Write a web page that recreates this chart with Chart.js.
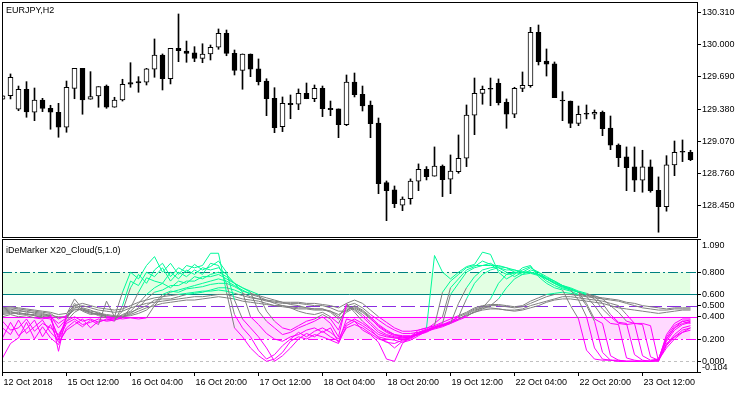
<!DOCTYPE html>
<html>
<head>
<meta charset="utf-8">
<script src="https://cdn.jsdelivr.net/npm/chart.js@4.4.0/dist/chart.umd.min.js"></script>
<style>
  body { margin: 0; background: #fff; }
  #wrap { position: relative; width: 750px; height: 394px; overflow: hidden; background: #fff; }
  #priceChart { position: absolute; left: 0; top: 0; }
  #demChart { position: absolute; left: 0; top: 229px; }
</style>
</head>
<body>
<div id="wrap">
  <canvas id="priceChart" width="750" height="239"></canvas>
  <canvas id="demChart" width="750" height="165"></canvas>
</div>
<script>
// EURJPY H2 candles (bar 0 = left edge)
const openP = [
  129.475, 129.509, 129.379, 129.571, 129.350, 129.468, 129.388, 129.350, 129.206, 129.580,
  129.772, 129.475, 129.506, 129.602, 129.398, 129.468, 129.634, 129.644, 129.638, 129.763,
  129.900, 129.672, 129.964, 129.938, 129.922, 129.868, 129.910, 129.974, 130.108, 129.916,
  129.753, 129.910, 129.766, 129.650, 129.484, 129.212, 129.436, 129.427, 129.532, 129.480,
  129.580, 129.388, 129.382, 129.231, 129.641, 129.523, 129.420, 129.247, 128.674, 128.604,
  128.457, 128.520, 128.688, 128.803, 128.736, 128.834, 128.707, 128.780, 128.908, 129.321,
  129.532, 129.571, 129.628, 129.446, 129.331, 129.580, 129.605, 130.118, 129.842, 129.814,
  129.458, 129.458, 129.244, 129.331, 129.331, 129.350, 129.199, 129.036, 128.921, 128.825,
  128.697, 128.825, 128.601, 128.444, 128.844, 128.966, 128.966
];
const highP = [
  129.511, 129.718, 129.602, 129.644, 129.583, 129.484, 129.417, 129.436, 129.650, 129.772,
  129.772, 129.740, 129.596, 129.612, 129.494, 129.667, 129.826, 129.692, 129.772, 130.054,
  129.910, 129.964, 130.294, 130.034, 129.980, 130.008, 129.996, 130.150, 130.140, 129.948,
  129.910, 129.910, 129.862, 129.672, 129.586, 129.497, 129.516, 129.574, 129.631, 129.612,
  129.602, 129.458, 129.382, 129.708, 129.727, 129.602, 129.458, 129.295, 128.690, 128.642,
  128.537, 128.710, 128.854, 128.828, 129.017, 128.844, 128.940, 129.132, 129.420, 129.679,
  129.602, 129.679, 129.670, 129.478, 129.590, 129.737, 130.166, 130.188, 129.958, 129.833,
  129.548, 129.458, 129.410, 129.420, 129.372, 129.362, 129.314, 129.046, 129.017, 129.017,
  128.985, 128.892, 128.729, 128.933, 129.074, 129.084, 128.985
];
const lowP = [
  129.473, 129.478, 129.365, 129.302, 129.269, 129.356, 129.187, 129.110, 129.158, 129.480,
  129.331, 129.475, 129.398, 129.388, 129.398, 129.458, 129.590, 129.542, 129.612, 129.686,
  129.564, 129.622, 129.836, 129.830, 129.836, 129.826, 129.852, 129.955, 129.893, 129.708,
  129.571, 129.692, 129.612, 129.317, 129.154, 129.164, 129.288, 129.375, 129.480, 129.452,
  129.308, 129.317, 129.106, 129.221, 129.497, 129.362, 129.106, 128.568, 128.309, 128.434,
  128.405, 128.467, 128.597, 128.700, 128.736, 128.540, 128.568, 128.764, 128.828, 129.135,
  129.427, 129.413, 129.420, 129.196, 129.298, 129.548, 129.590, 129.804, 129.698, 129.490,
  129.269, 129.202, 129.221, 129.286, 129.286, 129.125, 128.991, 128.828, 128.597, 128.588,
  128.582, 128.582, 128.198, 128.400, 128.741, 128.876, 128.885
];
const closeP = [
  129.509, 129.686, 129.571, 129.353, 129.468, 129.388, 129.350, 129.206, 129.590, 129.772,
  129.468, 129.500, 129.596, 129.398, 129.468, 129.619, 129.619, 129.631, 129.766, 129.900,
  129.672, 129.964, 129.941, 129.916, 129.868, 129.910, 129.974, 130.108, 129.916, 129.753,
  129.910, 129.763, 129.644, 129.480, 129.202, 129.436, 129.423, 129.532, 129.480, 129.580,
  129.384, 129.375, 129.231, 129.641, 129.519, 129.410, 129.240, 128.664, 128.597, 128.472,
  128.515, 128.690, 128.803, 128.732, 128.834, 128.703, 128.784, 128.908, 129.324, 129.532,
  129.571, 129.571, 129.442, 129.331, 129.580, 129.609, 130.118, 129.836, 129.811, 129.490,
  129.458, 129.244, 129.331, 129.331, 129.350, 129.192, 129.033, 128.914, 128.818, 128.697,
  128.825, 128.597, 128.444, 128.844, 128.966, 128.966, 128.895
];

const priceTicks = [130.310, 130.000, 129.690, 129.380, 129.070, 128.760, 128.450];
const timeTickBars = [0, 8, 16, 24, 32, 40, 48, 56, 64, 72, 80];
const timeTickLabels = ['12 Oct 2018', '15 Oct 12:00', '16 Oct 04:00', '16 Oct 20:00', '17 Oct 12:00',
  '18 Oct 04:00', '18 Oct 20:00', '19 Oct 12:00', '22 Oct 04:00', '22 Oct 20:00', '23 Oct 12:00'];

// indicator window
const demTicks = [1.090, 0.800, 0.600, 0.500, 0.400, 0.200, 0.000, -0.104];
const levels = [0.8, 0.6, 0.5, 0.4, 0.2, 0.0];
const cloudUp = [0.6, 0.8];
const cloudDown = [0.2, 0.4];

// some of the DeMarker lines, read by eye (roughly fast -> slow)
const dem1 = [
  0.03,0.16,0.21,0.35,0.20,0.31,0.21,0.15,0.30,0.36,
  0.31,0.37,0.33,0.54,0.40,0.62,0.80,0.74,0.86,0.94,
  0.80,0.88,0.78,0.86,0.84,0.86,0.97,0.97,0.62,0.30,
  0.22,0.12,0.05,0.00,0.02,0.08,0.18,0.22,0.20,0.24,
  0.22,0.19,0.16,0.32,0.36,0.28,0.24,0.17,0.02,0.00,
  0.16,0.22,0.28,0.30,0.95,0.80,0.74,0.80,0.85,0.87,
  0.98,0.96,0.80,0.74,0.78,0.84,0.86,0.76,0.70,0.66,
  0.64,0.50,0.38,0.10,0.02,0.01,0.01,0.00,0.00,0.00,
  0.00,0.00,0.00,0.20,0.30,0.36,0.34
];
const dem2 = [
  0.21,0.35,0.23,0.29,0.37,0.22,0.33,0.17,0.28,0.33,
  0.38,0.30,0.36,0.37,0.38,0.45,0.66,0.78,0.70,0.82,
  0.88,0.76,0.84,0.80,0.87,0.82,0.85,0.90,0.80,0.55,
  0.38,0.30,0.22,0.12,0.00,0.05,0.12,0.20,0.25,0.22,
  0.27,0.22,0.18,0.30,0.33,0.30,0.25,0.20,0.18,0.12,
  0.18,0.20,0.25,0.28,0.32,0.62,0.72,0.78,0.84,0.86,
  0.86,0.88,0.84,0.80,0.76,0.80,0.84,0.80,0.74,0.70,
  0.66,0.64,0.55,0.40,0.12,0.02,0.01,0.01,0.00,0.00,
  0.00,0.00,0.01,0.15,0.24,0.30,0.32
];
const dem3 = [
  0.36,0.28,0.30,0.38,0.27,0.34,0.30,0.24,0.36,0.40,
  0.36,0.38,0.35,0.38,0.36,0.50,0.72,0.68,0.80,0.76,
  0.84,0.72,0.80,0.76,0.82,0.78,0.88,0.86,0.70,0.42,
  0.30,0.22,0.10,0.02,0.06,0.14,0.20,0.26,0.22,0.27,
  0.30,0.26,0.20,0.34,0.38,0.34,0.29,0.21,0.17,0.16,
  0.19,0.21,0.26,0.29,0.34,0.40,0.66,0.74,0.82,0.85,
  0.90,0.87,0.82,0.78,0.79,0.82,0.85,0.78,0.72,0.68,
  0.65,0.63,0.60,0.50,0.36,0.08,0.01,0.00,0.00,0.00,
  0.00,0.00,0.01,0.14,0.22,0.28,0.30
];
const dem4 = [
  0.30,0.24,0.37,0.25,0.31,0.37,0.26,0.19,0.34,0.38,
  0.33,0.35,0.38,0.36,0.37,0.39,0.48,0.62,0.75,0.72,
  0.70,0.80,0.74,0.82,0.78,0.84,0.82,0.84,0.78,0.70,
  0.62,0.40,0.33,0.25,0.20,0.18,0.22,0.24,0.28,0.30,
  0.26,0.30,0.17,0.38,0.36,0.32,0.27,0.22,0.20,0.19,
  0.17,0.19,0.23,0.27,0.31,0.34,0.60,0.70,0.80,0.84,
  0.86,0.86,0.86,0.84,0.80,0.78,0.82,0.80,0.76,0.72,
  0.68,0.65,0.62,0.52,0.38,0.34,0.05,0.01,0.00,0.00,
  0.00,0.00,0.01,0.12,0.20,0.26,0.28
];
const dem5 = [
  0.44,0.45,0.42,0.43,0.41,0.40,0.42,0.09,0.42,0.56,
  0.47,0.44,0.41,0.39,0.38,0.42,0.45,0.52,0.60,0.66,
  0.70,0.66,0.72,0.70,0.76,0.74,0.78,0.80,0.76,0.70,
  0.66,0.62,0.45,0.36,0.30,0.24,0.26,0.30,0.33,0.36,
  0.40,0.34,0.22,0.52,0.44,0.36,0.30,0.24,0.22,0.21,
  0.20,0.21,0.24,0.26,0.30,0.33,0.34,0.52,0.66,0.76,
  0.82,0.84,0.85,0.84,0.82,0.80,0.80,0.78,0.74,0.70,
  0.67,0.64,0.62,0.58,0.50,0.40,0.34,0.33,0.03,0.01,
  0.00,0.00,0.02,0.18,0.28,0.33,0.35
];
const dem6 = [
  0.40,0.42,0.40,0.41,0.39,0.38,0.40,0.20,0.40,0.52,
  0.46,0.43,0.42,0.40,0.39,0.40,0.43,0.48,0.56,0.62,
  0.64,0.68,0.68,0.72,0.72,0.76,0.76,0.78,0.74,0.70,
  0.66,0.63,0.60,0.45,0.36,0.30,0.28,0.32,0.36,0.38,
  0.42,0.38,0.28,0.50,0.46,0.40,0.33,0.26,0.23,0.21,
  0.21,0.22,0.24,0.27,0.30,0.33,0.35,0.40,0.56,0.70,
  0.78,0.82,0.84,0.82,0.82,0.80,0.80,0.78,0.74,0.71,
  0.68,0.65,0.62,0.60,0.56,0.47,0.40,0.34,0.33,0.34,
  0.05,0.01,0.02,0.20,0.30,0.34,0.36
];
const dem7 = [
  0.46,0.47,0.45,0.45,0.43,0.42,0.41,0.30,0.38,0.50,
  0.45,0.42,0.43,0.40,0.39,0.38,0.39,0.38,0.39,0.50,
  0.58,0.62,0.64,0.66,0.68,0.70,0.72,0.74,0.72,0.68,
  0.64,0.60,0.58,0.55,0.52,0.50,0.48,0.45,0.43,0.42,
  0.44,0.40,0.34,0.48,0.47,0.42,0.35,0.28,0.24,0.22,
  0.21,0.22,0.25,0.28,0.31,0.32,0.35,0.38,0.42,0.46,
  0.48,0.56,0.70,0.78,0.80,0.80,0.80,0.78,0.75,0.72,
  0.68,0.66,0.63,0.61,0.58,0.52,0.42,0.35,0.34,0.06,
  0.01,0.00,0.02,0.22,0.32,0.36,0.37
];
const dem8 = [
  0.42,0.43,0.43,0.42,0.42,0.41,0.40,0.34,0.39,0.47,
  0.46,0.44,0.42,0.41,0.40,0.40,0.41,0.43,0.46,0.52,
  0.60,0.63,0.62,0.65,0.66,0.67,0.69,0.70,0.70,0.67,
  0.63,0.61,0.59,0.57,0.55,0.53,0.51,0.50,0.48,0.47,
  0.47,0.45,0.42,0.46,0.49,0.45,0.39,0.31,0.26,0.23,
  0.22,0.22,0.24,0.27,0.30,0.32,0.35,0.38,0.41,0.44,
  0.47,0.50,0.56,0.66,0.74,0.78,0.79,0.77,0.74,0.70,
  0.67,0.65,0.62,0.60,0.59,0.56,0.50,0.44,0.36,0.34,
  0.33,0.04,0.01,0.24,0.34,0.38,0.38
];
const dem9 = [
  0.47,0.48,0.47,0.46,0.45,0.44,0.43,0.38,0.41,0.46,
  0.47,0.45,0.44,0.41,0.40,0.41,0.44,0.47,0.50,0.55,
  0.56,0.56,0.58,0.60,0.61,0.62,0.64,0.66,0.66,0.64,
  0.61,0.58,0.56,0.54,0.53,0.52,0.52,0.52,0.51,0.50,
  0.50,0.48,0.45,0.45,0.50,0.46,0.40,0.33,0.28,0.24,
  0.22,0.22,0.24,0.27,0.30,0.32,0.34,0.37,0.40,0.45,
  0.48,0.48,0.47,0.46,0.46,0.47,0.50,0.52,0.54,0.56,
  0.58,0.58,0.57,0.56,0.55,0.54,0.52,0.50,0.42,0.34,
  0.34,0.32,0.00,0.16,0.22,0.26,0.30
];
const dem10 = [
  0.45,0.46,0.46,0.44,0.44,0.43,0.41,0.40,0.40,0.48,
  0.50,0.48,0.46,0.45,0.44,0.45,0.48,0.50,0.52,0.53,
  0.54,0.55,0.56,0.57,0.58,0.58,0.59,0.60,0.60,0.58,
  0.56,0.55,0.54,0.52,0.50,0.49,0.48,0.47,0.47,0.46,
  0.46,0.45,0.40,0.50,0.52,0.48,0.42,0.37,0.32,0.28,
  0.25,0.25,0.26,0.28,0.30,0.33,0.36,0.40,0.43,0.47,
  0.49,0.50,0.50,0.49,0.48,0.49,0.52,0.55,0.58,0.60,
  0.60,0.60,0.59,0.58,0.57,0.56,0.55,0.54,0.52,0.50,
  0.48,0.47,0.46,0.46,0.47,0.47,0.47
];
const dem11 = [
  0.43,0.44,0.44,0.42,0.41,0.39,0.38,0.22,0.36,0.44,
  0.48,0.46,0.43,0.42,0.41,0.40,0.42,0.45,0.48,0.50,
  0.52,0.53,0.54,0.55,0.55,0.56,0.57,0.58,0.57,0.56,
  0.54,0.53,0.52,0.51,0.50,0.50,0.49,0.48,0.48,0.47,
  0.47,0.44,0.38,0.44,0.48,0.44,0.38,0.32,0.27,0.24,
  0.23,0.23,0.25,0.27,0.29,0.31,0.34,0.38,0.41,0.44,
  0.46,0.47,0.47,0.46,0.45,0.46,0.48,0.50,0.53,0.55,
  0.56,0.56,0.55,0.54,0.53,0.52,0.50,0.48,0.47,0.46,
  0.45,0.44,0.43,0.44,0.45,0.46,0.46
];
const dem12 = [
  0.48,0.49,0.48,0.47,0.46,0.45,0.44,0.42,0.43,0.50,
  0.52,0.50,0.48,0.47,0.46,0.47,0.50,0.53,0.55,0.57,
  0.58,0.59,0.60,0.61,0.62,0.63,0.63,0.64,0.63,0.61,
  0.59,0.57,0.56,0.55,0.54,0.53,0.53,0.53,0.52,0.52,
  0.51,0.50,0.48,0.52,0.55,0.52,0.46,0.40,0.35,0.30,
  0.27,0.27,0.28,0.30,0.32,0.35,0.38,0.41,0.44,0.48,
  0.50,0.51,0.51,0.50,0.49,0.50,0.54,0.57,0.60,0.61,
  0.62,0.61,0.60,0.59,0.58,0.57,0.56,0.55,0.53,0.52,
  0.50,0.49,0.48,0.47,0.48,0.48,0.48
];
const demLines = [dem1, dem2, dem3, dem4, dem5, dem6, dem7, dem8, dem9, dem10, dem11, dem12];

const X_MIN = -0.0625, X_MAX = 86.8125;
const FONT = { family: '"Liberation Sans", Arial, sans-serif', size: 9 };
const GREEN = '#00FA9A', PINK = '#FF00FF', GREY = '#808080';

const bars = openP.map((_, i) => i);

// frame round the plot area + the window caption
const paneFrame = {
  id: 'paneFrame',
  afterDraw(chart, args, opts) {
    const { ctx, chartArea: a } = chart;
    ctx.save();
    ctx.strokeStyle = '#000';
    ctx.lineWidth = 1;
    ctx.strokeRect(a.left + 0.5, a.top + 0.5, a.right - a.left, a.bottom - a.top);
    ctx.fillStyle = '#000';
    ctx.font = '9px "Liberation Sans", Arial, sans-serif';
    ctx.textBaseline = 'alphabetic';
    ctx.fillText(opts.title, a.left + 4, a.top + opts.titleY);
    ctx.restore();
  }
};

const levelLook = [
  { color: '#008080', dash: [10, 3, 2, 3] },
  { color: '#008080', dash: [] },
  { color: '#8A2BE2', dash: [14, 5] },
  { color: '#FF00FF', dash: [] },
  { color: '#FF00FF', dash: [10, 3, 2, 3] },
  { color: '#C0C0C0', dash: [3, 3] }
];

// horizontal level lines, snapped to whole pixels
const levelLines = {
  id: 'levelLines',
  beforeDatasetsDraw(chart) {
    const { ctx, chartArea: a } = chart;
    const y = chart.scales.y;
    ctx.save();
    ctx.lineWidth = 1;
    levels.forEach((lv, k) => {
      const py = Math.round(y.getPixelForValue(lv)) + 0.5;
      ctx.strokeStyle = levelLook[k].color;
      ctx.setLineDash(levelLook[k].dash);
      ctx.beginPath();
      ctx.moveTo(a.left, py);
      ctx.lineTo(a.right, py);
      ctx.stroke();
    });
    ctx.restore();
  }
};

function rightAxis(min, max, tickValues, label) {
  return {
    position: 'right', min: min, max: max,
    afterBuildTicks: s => { s.ticks = tickValues.map(v => ({ value: v })); },
    afterFit: s => { s.width = 53; s.paddingTop = 0; s.paddingBottom = 0; },
    grid: { drawOnChartArea: false, drawTicks: true, tickLength: 4, color: '#000' },
    border: { display: false },
    ticks: { autoSkip: false, padding: 1, color: '#000', font: FONT, callback: label }
  };
}

// price window
new Chart(document.getElementById('priceChart'), {
  type: 'bar',
  data: {
    datasets: [
      {
        label: 'body',
        data: bars.map(i => ({ x: i, y: [openP[i], closeP[i]] })),
        backgroundColor: bars.map(i => closeP[i] > openP[i] ? '#fff' : '#000'),
        borderColor: '#000', borderWidth: 1, borderSkipped: false,
        barThickness: 5, minBarLength: 1, grouped: false, order: 0
      },
      {
        label: 'wick',
        data: bars.map(i => ({ x: i, y: [lowP[i], highP[i]] })),
        backgroundColor: '#000', borderWidth: 0,
        barThickness: 1, grouped: false, order: 1
      }
    ]
  },
  options: {
    responsive: false, animation: false, devicePixelRatio: 1, events: [],
    layout: { padding: { left: 2, top: 2, right: 0, bottom: 2 } },
    plugins: { legend: { display: false }, tooltip: { enabled: false },
               paneFrame: { title: 'EURJPY,H2', titleY: 11 } },
    scales: {
      x: { type: 'linear', min: X_MIN, max: X_MAX, offset: false, display: false },
      y: rightAxis(128.152, 130.409, priceTicks, v => v.toFixed(3))
    }
  },
  plugins: [paneFrame]
});

// indicator window
function demColor(v) { return v > 0.6 ? GREEN : (v < 0.4 ? PINK : GREY); }

// the edge labels sit inside the window, as in the terminal
function demLabel(v, idx) {
  const t = v.toFixed(3);
  if (idx === 0) return ['', t];
  if (idx === demTicks.length - 1) return [t, ''];
  return t;
}

const demSets = [];
demSets.push({
  data: bars.map(i => ({ x: i, y: cloudUp[1] })), fill: { value: cloudUp[0] },
  backgroundColor: '#E3FFE3', borderColor: 'transparent', borderWidth: 0, pointRadius: 0, order: 30
});
demSets.push({
  data: bars.map(i => ({ x: i, y: cloudDown[1] })), fill: { value: cloudDown[0] },
  backgroundColor: '#FFD9FF', borderColor: 'transparent', borderWidth: 0, pointRadius: 0, order: 30
});
demLines.forEach(line => {
  demSets.push({
    data: line.map((v, i) => ({ x: i, y: v })),
    borderColor: GREY, borderWidth: 1, pointRadius: 0, tension: 0, fill: false, order: 0,
    segment: { borderColor: c => demColor((c.p0.parsed.y + c.p1.parsed.y) / 2) }
  });
});

new Chart(document.getElementById('demChart'), {
  type: 'line',
  data: { datasets: demSets },
  options: {
    responsive: false, animation: false, devicePixelRatio: 1, events: [],
    layout: { padding: { left: 2, top: 10, right: 0, bottom: 0 } },
    plugins: { legend: { display: false }, tooltip: { enabled: false },
               filler: { drawTime: 'beforeDatasetsDraw' },
               paneFrame: { title: 'iDeMarker X20_Cloud(5,1.0)', titleY: 14 } },
    scales: {
      x: {
        type: 'linear', min: X_MIN, max: X_MAX, offset: false,
        afterBuildTicks: s => { s.ticks = timeTickBars.map(v => ({ value: v })); },
        afterFit: s => { s.height = 22; s.paddingLeft = 0; s.paddingRight = 0; },
        grid: { drawOnChartArea: false, drawTicks: true, tickLength: 4, color: '#000' },
        border: { display: false },
        ticks: { autoSkip: false, maxRotation: 0, align: 'start', labelOffset: 1, padding: 1,
                 color: '#000', font: FONT, callback: (v, idx) => timeTickLabels[idx] }
      },
      y: rightAxis(-0.096, 1.098, demTicks, demLabel)
    }
  },
  plugins: [paneFrame, levelLines]
});
</script>
</body>
</html>
